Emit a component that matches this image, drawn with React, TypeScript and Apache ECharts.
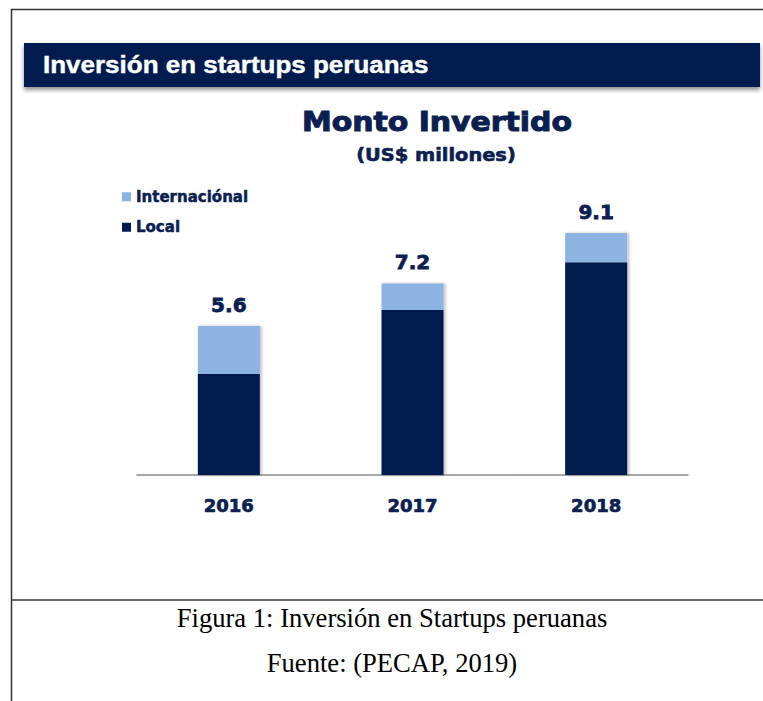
import React, { useEffect, useRef } from "react";
import * as echarts from "echarts";

const categories = ["2016", "2017", "2018"];
const localValues = [3.8, 6.2, 8.0];
const intlValues = [1.8, 1.0, 1.1];
const totals = [5.6, 7.2, 9.1];
const seriesNames = ["Local", "Internaciónal"];

const NAVY = "#001b50";
const LIGHT = "#8db3e2";
const TEXT_NAVY = "#0c1f50";

export default function App() {
  const ref = useRef<HTMLDivElement>(null);
  useEffect(() => {
    if (!ref.current) return;
    const chart = echarts.init(ref.current, undefined, { renderer: "svg" });
    const bold = (size: number) => `bold ${size}px "DejaVu Sans"`;
    chart.setOption({
      animation: false,
      backgroundColor: "#ffffff",
      legend: {
        orient: "vertical",
        left: 117,
        top: 184,
        itemWidth: 9,
        itemHeight: 9,
        itemGap: 15,
        icon: "rect",
        data: ["Internaciónal", "Local"],
        textStyle: {
          color: TEXT_NAVY,
          fontFamily: "DejaVu Sans",
          fontWeight: "bold",
          fontSize: 15,
          textBorderColor: TEXT_NAVY,
          textBorderWidth: 0.5,
        },
      },
      grid: { left: 137, right: 75, top: 209, bottom: 226 },
      xAxis: {
        type: "category",
        data: categories,
        axisLine: { lineStyle: { color: "#8c8c8c", width: 1.5 } },
        axisTick: { show: false },
        axisLabel: {
          margin: 21,
          color: TEXT_NAVY,
          fontFamily: "DejaVu Sans",
          fontWeight: "bold",
          fontSize: 18,
          textBorderColor: TEXT_NAVY,
          textBorderWidth: 0.7,
        },
      },
      yAxis: {
        type: "value",
        min: 0,
        max: 10,
        show: false,
        splitLine: { show: false },
      },
      series: [
        {
          name: seriesNames[0],
          type: "bar",
          stack: "total",
          data: localValues,
          barWidth: 62,
          itemStyle: {
            color: NAVY,
            shadowColor: "rgba(0,0,0,0.25)",
            shadowBlur: 3,
            shadowOffsetX: 2,
          },
        },
        {
          name: seriesNames[1],
          type: "bar",
          stack: "total",
          data: intlValues,
          barWidth: 62,
          itemStyle: {
            color: LIGHT,
            shadowColor: "rgba(0,0,0,0.25)",
            shadowBlur: 3,
            shadowOffsetX: 2,
          },
          label: {
            show: true,
            position: "top",
            distance: 11,
            color: TEXT_NAVY,
            fontFamily: "DejaVu Sans",
            fontWeight: "bold",
            fontSize: 20,
            textBorderColor: TEXT_NAVY,
            textBorderWidth: 0.8,
            formatter: (p: any) => totals[p.dataIndex].toFixed(1),
          },
        },
      ],
      graphic: [
        // header bar
        {
          type: "rect",
          shape: { x: 24, y: 43, width: 736, height: 44 },
          style: {
            fill: NAVY,
            shadowColor: "rgba(0,0,0,0.45)",
            shadowBlur: 4,
            shadowOffsetY: 3,
          },
          z: 10,
        },
        {
          type: "text",
          x: 43,
          y: 65,
          scaleX: 1.13,
          style: {
            text: "Inversión en startups peruanas",
            font: 'bold 23px "Liberation Sans"',
            fill: "#ffffff",
            stroke: "#ffffff",
            lineWidth: 0.4,
            textAlign: "left",
            textVerticalAlign: "middle",
          },
          z: 11,
        },
        // title
        {
          type: "text",
          x: 437,
          y: 122,
          scaleX: 1.15,
          style: {
            text: "Monto Invertido",
            font: bold(26),
            fill: TEXT_NAVY,
            stroke: TEXT_NAVY,
            lineWidth: 1,
            textAlign: "center",
            textVerticalAlign: "middle",
          },
        },
        {
          type: "text",
          x: 436,
          y: 155,
          scaleX: 1.14,
          style: {
            text: "(US$ millones)",
            font: bold(17),
            fill: TEXT_NAVY,
            stroke: TEXT_NAVY,
            lineWidth: 0.6,
            textAlign: "center",
            textVerticalAlign: "middle",
          },
        },
        // frame lines
        {
          type: "line",
          shape: { x1: 11.5, y1: 9, x2: 11.5, y2: 701 },
          style: { stroke: "#333333", lineWidth: 1.5 },
        },
        {
          type: "line",
          shape: { x1: 11, y1: 9.5, x2: 763, y2: 9.5 },
          style: { stroke: "#333333", lineWidth: 1.5 },
        },
        {
          type: "line",
          shape: { x1: 11, y1: 600, x2: 763, y2: 600 },
          style: { stroke: "#333333", lineWidth: 1.5 },
        },
        // caption
        {
          type: "text",
          x: 392,
          y: 618,
          style: {
            text: "Figura 1: Inversión en Startups peruanas",
            font: '26.6px "Liberation Serif"',
            fill: "#000000",
            textAlign: "center",
            textVerticalAlign: "middle",
          },
        },
        {
          type: "text",
          x: 392,
          y: 663,
          style: {
            text: "Fuente: (PECAP, 2019)",
            font: '26.6px "Liberation Serif"',
            fill: "#000000",
            textAlign: "center",
            textVerticalAlign: "middle",
          },
        },
      ],
    });
    return () => chart.dispose();
  }, []);
  return (
    <div
      ref={ref}
      style={{ position: "absolute", left: 0, top: 0, width: 763, height: 701 }}
    />
  );
}
